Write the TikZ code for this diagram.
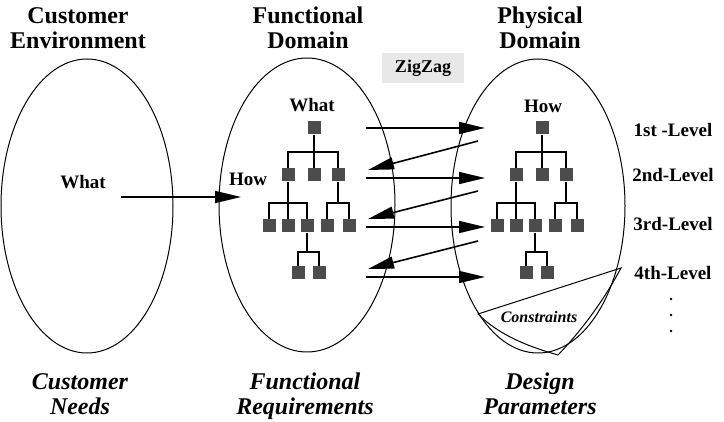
\documentclass[tikz,border=0pt]{standalone}
\usepackage{fontspec}
\setmainfont{Liberation Serif}
\usetikzlibrary{arrows.meta, shapes.geometric, positioning}

\tikzset{
  heading/.style={font=\fontsize{24}{25}\selectfont\bfseries, align=center},
  needs/.style={font=\fontsize{24}{25}\selectfont\bfseries\itshape, align=center},
  tag/.style={font=\fontsize{19}{20}\selectfont\bfseries},
  realm/.style={ellipse, draw, line width=1pt, minimum width=172pt,
                minimum height=294pt, inner sep=0pt},
  blk/.style={rectangle, fill=black!70, minimum size=13pt, inner sep=0pt},
  branch/.style={line width=1.3pt},
  flow/.style={line width=1.6pt, -{Triangle[length=26pt,width=12pt]}},
}

\begin{document}
\begin{tikzpicture}[x=1pt, y=-1pt]
  \useasboundingbox (0,0) rectangle (724,422);
  % Domains
  \node[realm] (ce) at (87,206) {};
  \node[realm, minimum width=176pt] (fd) at (307,205) {};
  \node[realm, minimum width=174pt] (pd) at (538,206) {};
  % Headings
  \node[heading] (cet) at (78,28) {Customer\\Environment};
  \node[heading] (fdt) at (308,28) {Functional\\Domain};
  \node[heading] (pdt) at (540,28) {Physical\\Domain};
  \node[needs] (cen) at (80,394) {Customer\\Needs};
  \node[needs] (fdn) at (305,396) {Functional\\Requirements};
  \node[needs] (pdn) at (540,394) {Design\\Parameters};
  \node[fill=black!9, minimum width=82pt, minimum height=30pt,
        font=\fontsize{18}{20}\selectfont\bfseries] (zz) at (423,68) {ZigZag};
  % What / How
  \node[tag] (cw) at (83,182) {What};
  \node[tag] (fw) at (312,105) {What};
  \node[tag] (fh) at (248,179) {How};
  \node[tag] (ph) at (543,106) {How};
  % Levels
  \foreach \lv/\ly in {1st -Level/130, 2nd-Level/175, 3rd-Level/224, 4th-Level/273}
    \node[tag] (lv\ly) at (673,\ly) {\lv};
  \foreach \dy in {299, 315, 331}
    \fill (671,\dy) circle[radius=1.4pt];
  % Hierarchies
  \foreach \dom/\dx in {fr/0, dp/228}{
    \begin{scope}[xshift=\dx]
      \node[blk] (\dom0) at (314,128) {};
      \node[blk] (\dom1) at (288,175) {};
      \node[blk] (\dom2) at (314,175) {};
      \node[blk] (\dom3) at (338,175) {};
      \node[blk] (\dom11) at (269,226) {};
      \node[blk] (\dom12) at (288,226) {};
      \node[blk] (\dom13) at (307,226) {};
      \node[blk] (\dom31) at (327,226) {};
      \node[blk] (\dom32) at (349,226) {};
      \node[blk] (\dom131) at (298,273) {};
      \node[blk] (\dom132) at (319,273) {};
      \draw[branch] (\dom0) -- (\dom2);
      \draw[branch] (\dom1.north) -- (\dom1.north |- 0,152) -| (\dom3.north);
      \draw[branch] (\dom1) -- (\dom12);
      \draw[branch] (\dom11.north) -- (\dom11.north |- 0,203) -| (\dom13.north);
      \draw[branch] (\dom3.south) -- (\dom3.south |- 0,203);
      \draw[branch] (\dom31.north) -- (\dom31.north |- 0,203) -| (\dom32.north);
      \draw[branch] (\dom13.south) -- (\dom13.south |- 0,252);
      \draw[branch] (\dom131.north) -- (\dom131.north |- 0,252) -| (\dom132.north);
    \end{scope}
  }
  % Mapping arrows
  \coordinate (cs) at (121,197);
  \coordinate (ct) at (241,197);
  \draw[flow] (cs) -- (ct);
  \foreach \k/\ry in {1/128, 2/178, 3/227, 4/277}{
    \coordinate (zs\k) at (366,\ry);
    \coordinate (ze\k) at (485,\ry);
    \draw[flow] (zs\k) -- (ze\k);
  }
  \foreach \k/\sy/\ty in {1/141/170, 2/191/219, 3/241/269}{
    \coordinate (bs\k) at (478,\sy);
    \coordinate (be\k) at (368,\ty);
    \draw[flow] (bs\k) -- (be\k);
  }
  % Constraints flap
  \draw[line width=1pt] (478,314) -- (621,268)
    .. controls (604,300) and (582,330) .. (558,355)
    .. controls (530,347) and (500,336) .. cycle;
  \node[font=\fontsize{16}{17}\selectfont\bfseries\itshape] (cn) at (539,317) {Constraints};
\end{tikzpicture}
\end{document}
